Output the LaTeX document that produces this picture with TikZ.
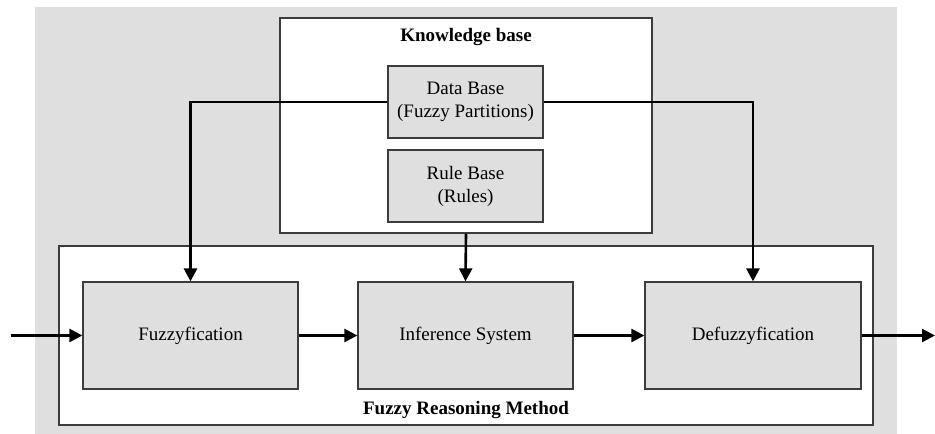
\documentclass[tikz,border=0pt]{standalone}
\usepackage{fontspec}
\setmainfont{Liberation Serif}
\usetikzlibrary{arrows.meta,positioning}
\definecolor{bggray}{RGB}{223,223,223}
\definecolor{edgegray}{RGB}{60,60,60}
\tikzset{
  blockbox/.style={draw=edgegray, line width=1.3pt, fill=bggray, inner sep=0pt, align=center,
    font=\fontsize{19}{23}\selectfont},
  framebox/.style={draw=edgegray, line width=1.3pt, fill=white},
  flow/.style={line width=2.6pt, -{Triangle[length=13pt,width=13pt]}},
  titletext/.style={font=\fontsize{19}{23}\selectfont\bfseries}
}
\begin{document}
\begin{tikzpicture}[x=1pt,y=-1pt]
\useasboundingbox (0,0) rectangle (935,434);
\fill[bggray] (35,7) rectangle (897,434);
% frames
\node[framebox, minimum width=372pt, minimum height=215pt, inner sep=0pt] (kb) at (466,125.5) {};
\node[framebox, minimum width=814pt, minimum height=179pt, inner sep=0pt] (frm) at (466,335.5) {};
\node[titletext] (kbt) at (466,37) {Knowledge base};
\node[titletext] (frmt) at (466,410) {Fuzzy Reasoning Method};
% knowledge base contents
\node[blockbox, minimum width=155pt, minimum height=72pt] (db) at (465.5,102) {Data Base\\(Fuzzy Partitions)};
\node[blockbox, minimum width=155pt, minimum height=72pt] (rb) at (465.5,186) {Rule Base\\(Rules)};
% process blocks
\node[blockbox, minimum width=215pt, minimum height=107pt] (fz) at (190.5,335.5) {Fuzzyfication};
\node[blockbox, minimum width=215pt, minimum height=107pt] (inf) at (465.5,335.5) {Inference System};
\node[blockbox, minimum width=216pt, minimum height=107pt] (dfz) at (753,335.5) {Defuzzyfication};
% connectors
\coordinate (in) at (11,335.5);
\coordinate (out) at (935,335.5);
\draw[flow] (db.west) -| (fz.north);
\draw[flow] (db.east) -| (dfz.north);
\draw[flow] (kb.south) -- (inf.north);
\draw[flow] (in) -- (fz.west);
\draw[flow] (fz.east) -- (inf.west);
\draw[flow] (inf.east) -- (dfz.west);
\draw[flow] (dfz.east) -- (out);
\end{tikzpicture}
\end{document}
